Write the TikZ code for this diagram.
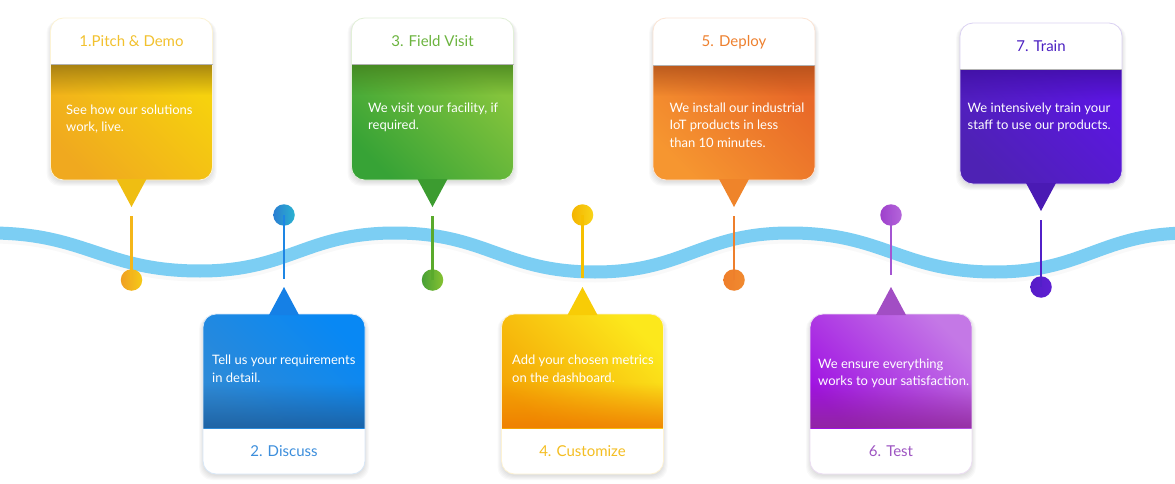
\documentclass[tikz,border=0pt]{standalone}
\usepackage{fontspec}
\setmainfont{Lato}
\usetikzlibrary{fadings}

\definecolor{wavecol}{HTML}{7CCEF3}
% card colours: ink = title, lo/hi = body gradient, band = dark strip, tip, pin, dlo/dhi = dot
\definecolor{ink1}{HTML}{F2C12E}\definecolor{lo1}{HTML}{F0A91F}\definecolor{hi1}{HTML}{F6D10E}
\definecolor{band1}{HTML}{8A6A10}\definecolor{tip1}{HTML}{EFBE12}\definecolor{pin1}{HTML}{F4B619}
\definecolor{dlo1}{HTML}{F0A023}\definecolor{dhi1}{HTML}{F6CA16}
\definecolor{ink2}{HTML}{3C8EDC}\definecolor{lo2}{HTML}{2F8AD6}\definecolor{hi2}{HTML}{0888F4}
\definecolor{band2}{HTML}{1B5A98}\definecolor{tip2}{HTML}{1580E6}\definecolor{pin2}{HTML}{1E86E4}
\definecolor{dlo2}{HTML}{2A7ED2}\definecolor{dhi2}{HTML}{2AB2D0}
\definecolor{ink3}{HTML}{6CB43F}\definecolor{lo3}{HTML}{37A336}\definecolor{hi3}{HTML}{84C43C}
\definecolor{band3}{HTML}{3E7A1A}\definecolor{tip3}{HTML}{3C9C30}\definecolor{pin3}{HTML}{5AAA2C}
\definecolor{dlo3}{HTML}{48A034}\definecolor{dhi3}{HTML}{86C232}
\definecolor{ink4}{HTML}{F4BE22}\definecolor{lo4}{HTML}{F4A405}\definecolor{hi4}{HTML}{FCE81C}
\definecolor{band4}{HTML}{EE7800}\definecolor{tip4}{HTML}{F8CC06}\definecolor{pin4}{HTML}{F6C000}
\definecolor{dlo4}{HTML}{F4B400}\definecolor{dhi4}{HTML}{F8D418}
\definecolor{ink5}{HTML}{EE802E}\definecolor{lo5}{HTML}{F69630}\definecolor{hi5}{HTML}{E86828}
\definecolor{band5}{HTML}{A84C18}\definecolor{tip5}{HTML}{EF842A}\definecolor{pin5}{HTML}{EE7F2C}
\definecolor{dlo5}{HTML}{EF7E2A}\definecolor{dhi5}{HTML}{F08A30}
\definecolor{ink6}{HTML}{9E55C2}\definecolor{lo6}{HTML}{A012E2}\definecolor{hi6}{HTML}{C478E6}
\definecolor{band6}{HTML}{8E2A94}\definecolor{tip6}{HTML}{A24EC4}\definecolor{pin6}{HTML}{A455D2}
\definecolor{dlo6}{HTML}{9E40CC}\definecolor{dhi6}{HTML}{B466DA}
\definecolor{ink7}{HTML}{4B20C2}\definecolor{lo7}{HTML}{4E22B4}\definecolor{hi7}{HTML}{5C16E2}
\definecolor{band7}{HTML}{3C0E9C}\definecolor{tip7}{HTML}{4A1AB4}\definecolor{pin7}{HTML}{5220C8}
\definecolor{dlo7}{HTML}{561CC8}\definecolor{dhi7}{HTML}{5E20D2}

\begin{document}
\begin{tikzpicture}[x=1pt, y=-1pt,
    wave/.style={line width=13pt, wavecol},
    waveshadow/.style={line width=15pt, black, opacity=.025, yshift=-3pt},
    headtext/.style={font=\fontsize{15}{18}\selectfont, inner sep=0pt},
    bodytext/.style={font=\fontsize{13}{17.4}\selectfont, text=white, align=left, inner sep=0pt, anchor=north west},
    stem/.style={line width=2.7pt},
    dot/.style={circle, minimum size=21.5pt, inner sep=0pt},
    card/.style={rounded corners=13pt}]
  \useasboundingbox[fill=white] (0,0) rectangle (1175,484);

  % the road
  \foreach \st in {waveshadow, wave}
    \draw[\st, looseness=1.15] (-10,233) to[out=0,in=180] (200,271) to[out=0,in=180] (395,233)
      to[out=0,in=180] (595,272) to[out=0,in=180] (790,233)
      to[out=0,in=180] (995,272) to[out=0,in=180] (1190,233);

  % cards above the road
  \foreach \n/\lx/\ty/\hy/\by/\tx/\tyy/\dy/\hd/\bd in {
      1/50.5/18/65/180/15.5/104.5/280/{1.Pitch \& Demo}/{See how our solutions\\work, live.},
      3/351.5/18/65/180/16.5/102.5/280/{3. Field Visit}/{We visit your facility, if\\required.},
      5/653/18/66/180/16.5/102.5/280/{5. Deploy}/{We install our industrial\\IoT products in less\\than 10 minutes.},
      7/960/23/70/184/7.5/102.5/287/{7. Train}/{We intensively train your\\staff to use our products.}}
  {
    \foreach \s in {1,...,5}
      \fill[black, opacity=.025, card] (\lx-\s+1,\ty+2) rectangle (\lx+162+\s-1,\by+\s+1);
    \begin{scope}
      \clip[card] (\lx,\ty) rectangle (\lx+162,\by);
      \fill[white] (\lx,\ty) rectangle (\lx+162,\hy);
      \shade[top color=hi\n, bottom color=lo\n, shading angle=-45] (\lx,\hy) rectangle (\lx+162,\by);
      \fill[band\n, opacity=.7, path fading=south] (\lx,\hy) rectangle (\lx+162,\hy+30);
    \end{scope}
    \draw[ink\n!20, line width=.8pt, card] (\lx,\ty) rectangle (\lx+162,\by);
    \draw[black!30, line width=1pt] (\lx,\hy) -- (\lx+162,\hy);
    \fill[tip\n] (\lx+66,\by-1) -- (\lx+96,\by-1) -- (\lx+81,\by+27) -- cycle;
    \node[headtext, text=ink\n] (head\n) at (\lx+81,{(\ty+\hy)/2}) {\hd};
    \node[bodytext] (body\n) at (\lx+\tx,\tyy) {\bd};
    \coordinate (stemtop\n) at (\lx+81,\by+36);
    \node[dot, left color=dlo\n, right color=dhi\n] (dot\n) at (\lx+81,\dy) {};
    \draw[stem, pin\n] (dot\n.center) -- (stemtop\n);
  }

  % cards below the road
  \foreach \n/\lx/\cy/\tx/\tyy/\sy/\hd/\bd in {
      2/203/428/9/355/279/{2. Discuss}/{Tell us your requirements\\in detail.},
      4/501.5/428/10.5/355/278/{4. Customize}/{Add your chosen metrics\\on the dashboard.},
      6/810/428/8/358.5/275/{6. Test}/{We ensure everything\\works to your satisfaction.}}
  {
    \foreach \s in {1,...,5}
      \fill[black, opacity=.025, card] (\lx-\s+1,316) rectangle (\lx+162+\s-1,474+\s+1);
    \begin{scope}
      \clip[card] (\lx,314) rectangle (\lx+162,474);
      \fill[white] (\lx,\cy) rectangle (\lx+162,474);
      \shade[top color=hi\n, bottom color=lo\n, shading angle=-45] (\lx,314) rectangle (\lx+162,\cy);
      \fill[band\n, opacity=.8, path fading=north] (\lx,\cy-45) rectangle (\lx+162,\cy);
    \end{scope}
    \draw[ink\n!20, line width=.8pt, card] (\lx,314) rectangle (\lx+162,474);
    \fill[tip\n] (\lx+66,315) -- (\lx+96,315) -- (\lx+81,287) -- cycle;
    \node[headtext, text=ink\n] (head\n) at (\lx+81,451) {\hd};
    \node[bodytext] (body\n) at (\lx+\tx,\tyy) {\bd};
    \coordinate (stemend\n) at (\lx+81,\sy);
    \node[dot, left color=dlo\n, right color=dhi\n] (dot\n) at (\lx+81,215) {};
    \draw[stem, pin\n] (dot\n.center) -- (stemend\n);
  }
\end{tikzpicture}
\end{document}
